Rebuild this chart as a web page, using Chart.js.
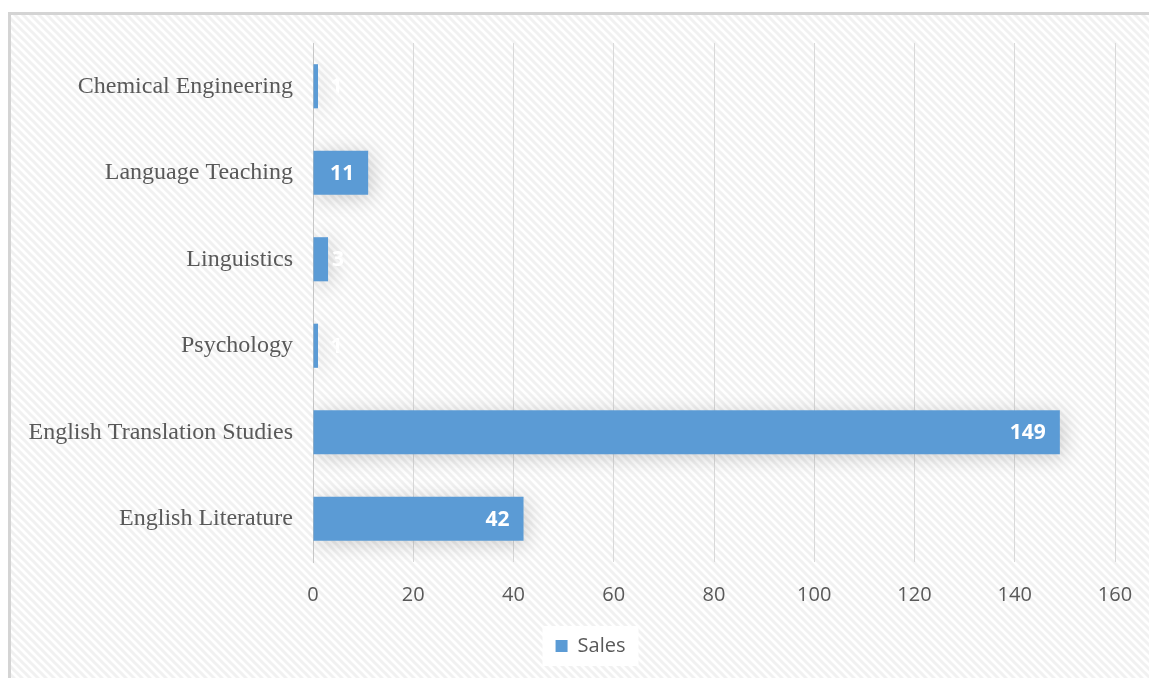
<!DOCTYPE html>
<html>
<head>
<meta charset="utf-8">
<script src="https://cdn.jsdelivr.net/npm/chart.js@4/dist/chart.umd.min.js"></script>
<style>
  html, body { margin: 0; padding: 0; background: #fff; }
  canvas { display: block; }
</style>
</head>
<body>
<canvas id="chart" width="1149" height="678"></canvas>
<script>
// categories, top to bottom
const categories = [
  'Chemical Engineering',
  'Language Teaching',
  'Linguistics',
  'Psychology',
  'English Translation Studies',
  'English Literature'
];
const salesValues = [1, 11, 3, 1, 149, 42];
const seriesName = 'Sales';
const axisMax = 160;
const axisStep = 20;

const BAR_BLUE = '#5B9BD5';
const TEXT_GREY = '#595959';

// light diagonal texture like the original background
function makePattern(ctx) {
  const c = document.createElement('canvas');
  c.width = 8; c.height = 8;
  const p = c.getContext('2d');
  p.fillStyle = '#ffffff';
  p.fillRect(0, 0, 8, 8);
  p.strokeStyle = '#f1f1f1';
  p.lineWidth = 3;
  p.beginPath();
  p.moveTo(-2, -2); p.lineTo(10, 10);
  p.moveTo(-6, 2); p.lineTo(6, 14);
  p.moveTo(2, -6); p.lineTo(14, 6);
  p.stroke();
  return ctx.createPattern(c, 'repeat');
}

const backgroundPlugin = {
  id: 'frameBackground',
  afterLayout(chart) {
    // legend sits a bit right of the canvas centre, like the original
    if (chart.legend) chart.legend.left += 66;
  },
  beforeDraw(chart) {
    const ctx = chart.ctx;
    ctx.save();
    ctx.fillStyle = '#ffffff';
    ctx.fillRect(0, 0, chart.width, chart.height);
    ctx.fillStyle = makePattern(ctx);
    ctx.fillRect(11, 15, chart.width - 11, chart.height - 15);
    // frame (top and left edges visible)
    ctx.fillStyle = '#d4d4d4';
    ctx.fillRect(8, 12, 3, chart.height - 12);
    ctx.fillRect(8, 12, chart.width - 8, 3);
    // white box behind legend
    const lg = chart.legend;
    if (lg) {
      const cx = (lg.left + lg.right) / 2;
      const cy = (lg.top + lg.bottom) / 2;
      ctx.fillStyle = '#ffffff';
      ctx.fillRect(cx - 48, cy - 20, 96, 40);
    }
    ctx.restore();
  }
};

const shadowPlugin = {
  id: 'barShadow',
  beforeDatasetsDraw(chart) {
    const ctx = chart.ctx;
    ctx.save();
    ctx.shadowColor = 'rgba(0,0,0,0.18)';
    ctx.shadowBlur = 20;
    ctx.shadowOffsetX = 3;
    ctx.shadowOffsetY = 3;
  },
  afterDatasetsDraw(chart) {
    chart.ctx.restore();
  }
};

// white bold value labels, inside end (past the bar when it is too short)
const valueLabelPlugin = {
  id: 'valueLabels',
  afterDatasetsDraw(chart) {
    const ctx = chart.ctx;
    const meta = chart.getDatasetMeta(0);
    ctx.save();
    ctx.font = 'bold 21px "Open Sans", sans-serif';
    ctx.fillStyle = '#ffffff';
    ctx.textBaseline = 'middle';
    meta.data.forEach((bar, i) => {
      const txt = String(chart.data.datasets[0].data[i]);
      const w = ctx.measureText(txt).width;
      const len = bar.x - bar.base;
      if (len < w + 20) {
        ctx.textAlign = 'left';
        ctx.fillText(txt, Math.max(bar.base + 17, bar.x + 4), bar.y + 1);
      } else {
        ctx.textAlign = 'right';
        ctx.fillText(txt, bar.x - 14, bar.y + 1);
      }
    });
    ctx.restore();
  }
};

new Chart(document.getElementById('chart'), {
  type: 'bar',
  data: {
    labels: categories,
    datasets: [{
      label: seriesName,
      data: salesValues,
      backgroundColor: BAR_BLUE,
      borderWidth: 0,
      categoryPercentage: 1,
      barPercentage: 0.51
    }]
  },
  options: {
    indexAxis: 'y',
    responsive: false,
    animation: false,
    layout: {
      padding: { top: 43, right: 34, bottom: 12, left: 0 }
    },
    plugins: {
      legend: {
        position: 'bottom',
        labels: {
          boxWidth: 12,
          boxHeight: 12,
          padding: 10,
          color: TEXT_GREY,
          font: { family: '"Open Sans", sans-serif', size: 20 }
        }
      },
      tooltip: { enabled: false }
    },
    scales: {
      x: {
        min: 0,
        max: axisMax,
        afterFit(scale) {
          scale.height = 64;
          scale.paddingRight = 0;
        },
        ticks: {
          stepSize: axisStep,
          padding: 21,
          color: TEXT_GREY,
          font: { family: '"Open Sans", sans-serif', size: 20 }
        },
        grid: {
          color: '#d9d9d9',
          lineWidth: 1,
          drawTicks: false
        },
        border: { display: false }
      },
      y: {
        afterFit(scale) { scale.width = 313; },
        ticks: {
          padding: 20,
          color: TEXT_GREY,
          font: { family: '"Liberation Serif", "Times New Roman", serif', size: 24 }
        },
        grid: { display: false, drawTicks: false },
        border: { display: true, color: '#c8c8c8', width: 1 }
      }
    }
  },
  plugins: [backgroundPlugin, shadowPlugin, valueLabelPlugin]
});
</script>
</body>
</html>
